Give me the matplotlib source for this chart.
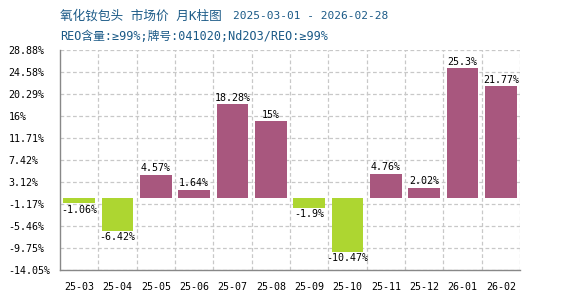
import matplotlib
matplotlib.use("Agg")
import matplotlib.pyplot as plt
import numpy as np

categories = ["25-03", "25-04", "25-05", "25-06", "25-07", "25-08",
              "25-09", "25-10", "25-11", "25-12", "26-01", "26-02"]
values = [-1.06, -6.42, 4.57, 1.64, 18.28, 15, -1.9, -10.47, 4.76, 2.02, 25.3, 21.77]
labels = ["-1.06%", "-6.42%", "4.57%", "1.64%", "18.28%", "15%",
          "-1.9%", "-10.47%", "4.76%", "2.02%", "25.3%", "21.77%"]
yticks = [28.88, 24.58, 20.29, 16, 11.71, 7.42, 3.12, -1.17, -5.46, -9.75, -14.05]
ytick_labels = ["28.88%", "24.58%", "20.29%", "16%", "11.71%", "7.42%", "3.12%",
                "-1.17%", "-5.46%", "-9.75%", "-14.05%"]
title_name = "氧化钕包头 市场价 月K柱图"
title_dates = "2025-03-01 - 2026-02-28"
subtitle = "REO含量:≥99%;牌号:041020;Nd2O3/REO:≥99%"

FAM = ["DejaVu Sans Mono", "Noto Sans CJK SC"]
POS = "#A8577E"
NEG = "#ADD631"
TITLE_C = "#1b5a87"

fig = plt.figure(figsize=(5.7, 3.0), dpi=100)
ax = fig.add_axes([60/570, 1 - 270/300, 460/570, 220/300])

x = np.arange(len(categories))
colors = [POS if v >= 0 else NEG for v in values]
ax.bar(x, values, width=0.83, color=colors, zorder=2)

ax.set_xlim(-0.5, len(categories) - 0.5)
ax.set_ylim(yticks[-1], yticks[0])
ax.set_yticks(yticks)
ax.set_yticklabels(ytick_labels, family=FAM, fontsize=7.2)
for t in ax.get_yticklabels():
    t.set_horizontalalignment("left")
ax.set_xticks(x)
ax.set_xticklabels(categories, family=FAM, fontsize=7.2)
ax.tick_params(axis="y", length=0, pad=37)
ax.tick_params(axis="x", length=0, pad=9)

# grid
for yv in yticks:
    ax.axhline(yv, color="#c8c8c8", linestyle=(0, (3, 2)), linewidth=0.9, zorder=1)
for b in np.arange(0.5, len(categories) - 0.5 + 1e-9, 1.0):
    ax.axvline(b, color="#c8c8c8", linestyle=(0, (3, 2)), linewidth=0.9, zorder=1)

for s in ["top", "right"]:
    ax.spines[s].set_visible(False)
for s in ["left", "bottom"]:
    ax.spines[s].set_color("#888888")
    ax.spines[s].set_linewidth(1.0)

for xi, v, lab in zip(x, values, labels):
    if v >= 0:
        ax.text(xi, v + 0.3, lab, ha="center", va="bottom", family=FAM, fontsize=7.2, color="black", zorder=3)
    else:
        ax.text(xi, v - 0.3, lab, ha="center", va="top", family=FAM, fontsize=7.2, color="black", zorder=3)

fig.text(60/570, 1 - 16/300, title_name, family=FAM, fontsize=9.1, color=TITLE_C, ha="left", va="center")
fig.text(233/570, 1 - 16/300, title_dates, family=FAM, fontsize=8, color=TITLE_C, ha="left", va="center")
fig.text(60/570, 1 - 36/300, subtitle, family=FAM, fontsize=8.5, color=TITLE_C, ha="left", va="center")

fig.savefig("out.png", dpi=100, facecolor="white")
